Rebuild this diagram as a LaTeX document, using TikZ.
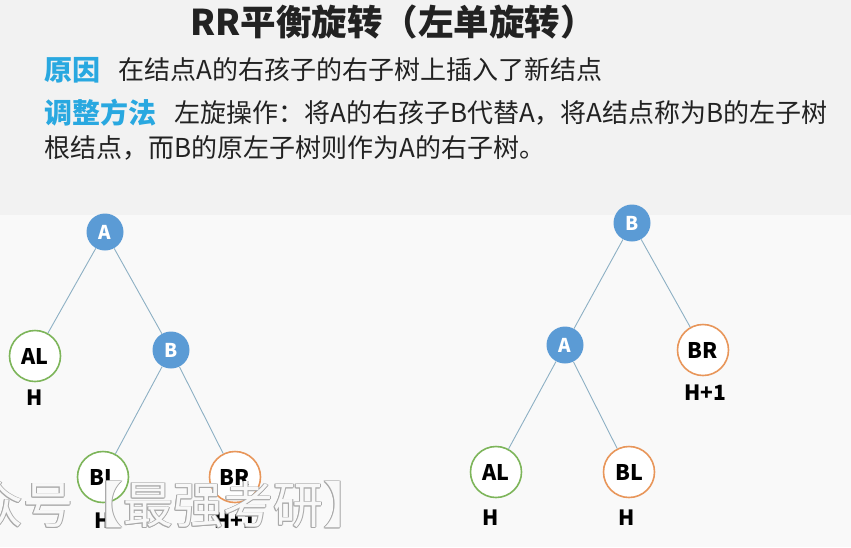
\documentclass[tikz,border=0pt]{standalone}
\usepackage{fontspec}
\setmainfont{Noto Sans CJK SC}
\definecolor{bgtop}{HTML}{F2F2F2}
\definecolor{bgbot}{HTML}{F9F9F9}
\definecolor{nodeblue}{HTML}{5B9BD5}
\definecolor{leafgreen}{HTML}{7DB55A}
\definecolor{leaforange}{HTML}{E8965A}
\definecolor{edgecol}{HTML}{8DB0C4}
\definecolor{keycol}{HTML}{29A8E0}
\definecolor{txt}{HTML}{222222}
\definecolor{wmgray}{HTML}{A8A8A8}
\tikzset{
  inner/.style={circle, fill=nodeblue, minimum size=37pt, inner sep=0pt, text=white, font=\fontsize{19}{19}\selectfont\bfseries},
  leafg/.style={circle, draw=leafgreen, line width=1.6pt, fill=white, minimum size=51pt, inner sep=0pt, text=black, font=\fontsize{21.5}{21.5}\selectfont\bfseries},
  leafo/.style={leafg, draw=leaforange},
  hlab/.style={text=black, font=\fontsize{21}{21}\selectfont\bfseries, inner sep=0pt},
  edge/.style={draw=edgecol, line width=0.9pt},
  body/.style={anchor=west, inner sep=0pt, text=txt, font=\fontsize{26}{26}\selectfont},
  key/.style={anchor=west, inner sep=0pt, text=keycol, font=\fontsize{28}{28}\selectfont\bfseries},
  wm/.style={inner sep=0pt, anchor=west, font=\fontsize{50}{50}\selectfont}
}
\begin{document}
\begin{tikzpicture}[x=1pt,y=-1pt]
\useasboundingbox (0,0) rectangle (851,547);
\fill[bgtop] (0,0) rectangle (851,215);
\fill[bgbot] (0,215) rectangle (851,547);

% title and text
\node[inner sep=0pt, text=txt, font=\fontsize{35.5}{35.5}\selectfont\bfseries] (title) at (393,22) {RR平衡旋转（左单旋转）};
\node[key] (k1) at (44,70) {原因};
\node[body] (t1) at (118,70) {在结点A的右孩子的右子树上插入了新结点};
\node[key] (k2) at (44,113) {调整方法};
\node[body] (t2) at (174,113) {左旋操作：将A的右孩子B代替A，将A结点称为B的左子树};
\node[body] (t3) at (44,148) {根结点，而B的原左子树则作为A的右子树。};

% left tree
\node[inner] (LA) at (105,232) {A};
\node[leafg] (LAL) at (35,356) {AL};
\node[inner] (LB) at (171,350) {B};
\node[leafg] (LBL) at (103,477) {BL};
\node[leafo] (LBR) at (235,477) {BR};
\node[hlab] (hLAL) at (35,398) {H};
\node[hlab] (hLBL) at (103,521) {H};
\node[hlab] (hLBR) at (235,521) {H+1};
\draw[edge] (LA) -- (LAL);
\draw[edge] (LA) -- (LB);
\draw[edge] (LB) -- (LBL);
\draw[edge] (LB) -- (LBR);

% right tree
\node[inner] (RB) at (632,223) {B};
\node[inner] (RA) at (565,345) {A};
\node[leafo] (RBR) at (703,350) {BR};
\node[leafg] (RAL) at (496,472) {AL};
\node[leafo] (RBL) at (629,472) {BL};
\node[hlab] (hRBR) at (705,393) {H+1};
\node[hlab] (hRAL) at (491,518) {H};
\node[hlab] (hRBL) at (627,518) {H};
\draw[edge] (RB) -- (RA);
\draw[edge] (RB) -- (RBR);
\draw[edge] (RA) -- (RAL);
\draw[edge] (RA) -- (RBL);

% watermark
\foreach \dx/\dy in {-0.9/0,0.9/0,0/-0.9,0/0.9,-0.65/-0.65,0.65/0.65,-0.65/0.65,0.65/-0.65}{
  \node[wm, text=wmgray] at (-27+\dx,505+\dy) {众号【最强考研】};
}
\node[wm, text=white, text opacity=0.93] (wmark) at (-27,505) {众号【最强考研】};
\end{tikzpicture}
\end{document}
